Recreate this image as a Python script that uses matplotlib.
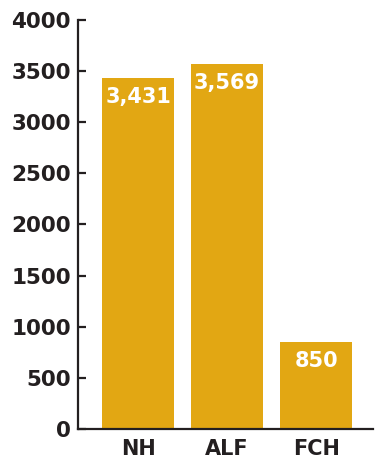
import matplotlib.pyplot as plt

categories = ["NH", "ALF", "FCH"]
values = [3431, 3569, 850]
value_labels = ["3,431", "3,569", "850"]
yticks = [0, 500, 1000, 1500, 2000, 2500, 3000, 3500, 4000]

gold = "#E2A713"
dark = "#231F20"

plt.rcParams["font.family"] = ["DejaVu Sans"]

fig = plt.figure(figsize=(3.75, 4.62), dpi=100)
ax = fig.add_axes([0.208, 0.0714, 0.787, 0.8857])

x = range(len(categories))
ax.bar(x, values, width=0.81, color=gold)

for xi, v, lab in zip(x, values, value_labels):
    ax.text(xi, v - 90, lab, ha="center", va="top", color="white",
            fontsize=15, fontweight="bold")

ax.set_xlim(-0.674, 2.64)
ax.set_ylim(0, 4000)
ax.set_yticks(yticks)
ax.set_yticklabels([str(t) for t in yticks], fontsize=15.5, fontweight="bold", color=dark)
ax.set_xticks(list(x))
ax.set_xticklabels(categories, fontsize=15, fontweight="bold", color=dark)

ax.spines["top"].set_visible(False)
ax.spines["right"].set_visible(False)
ax.spines["left"].set_color(dark)
ax.spines["bottom"].set_color(dark)
ax.spines["left"].set_linewidth(1.6)
ax.spines["bottom"].set_linewidth(1.6)
ax.tick_params(axis="y", direction="in", length=6, width=1.6, color=dark, pad=5)
ax.tick_params(axis="x", length=0, pad=7)

plt.savefig("out.png", dpi=100)
plt.close()
